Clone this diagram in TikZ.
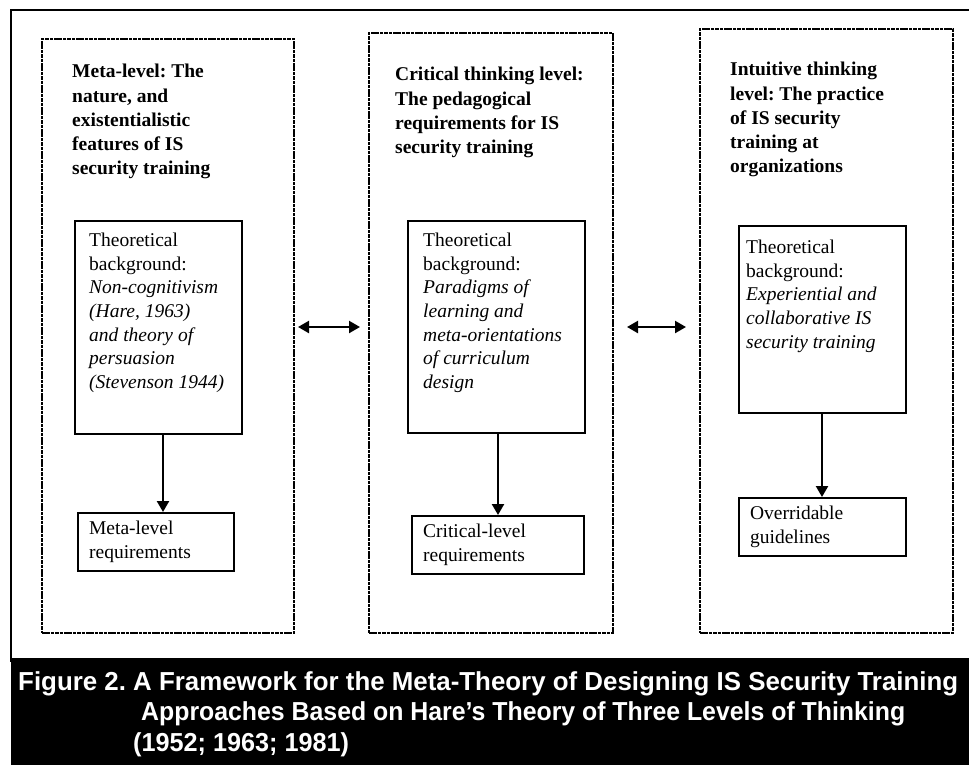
\documentclass[tikz,border=0pt]{standalone}
\usepackage{fontspec}
\setmainfont{Liberation Serif}
\newfontfamily\capfont{Liberation Sans}
\usetikzlibrary{arrows.meta}
\begin{document}
\frenchspacing
\begin{tikzpicture}[x=1pt,y=-1pt,
  levelbox/.style={draw, line width=2pt, dash pattern=on 3.6pt off 0.8pt, inner sep=0pt, anchor=north west},
  thbox/.style={draw, line width=2.2pt, inner sep=0pt, anchor=north west},
  reqbox/.style={draw, line width=2.2pt, anchor=north west, inner xsep=11pt, inner ysep=0pt, align=left,
     font=\fontsize{19.5}{23.6}\selectfont},
  ttl/.style={anchor=north west, inner sep=0pt, align=left, font=\fontsize{19.5}{24.3}\selectfont\bfseries},
  body/.style={anchor=north west, inner sep=0pt, align=left, font=\fontsize{19.5}{23.6}\selectfont},
  arr/.style={line width=2.3pt, -{Triangle[length=11pt,width=12pt]}},
  dbl/.style={line width=2.3pt, {Triangle[length=11pt,width=12pt]}-{Triangle[length=11pt,width=12pt]}},
]
\useasboundingbox (0,0) rectangle (969,764);
% outer frame and caption band
\draw[line width=2.4pt] (975,10) -| (11,662);
\fill[black] (11,658) rectangle (975,770);

% level boxes
\node[levelbox, minimum width=252pt, minimum height=594pt] (D1) at (41,38) {};
\node[levelbox, minimum width=244pt, minimum height=600pt] (D2) at (368,32) {};
\node[levelbox, minimum width=253pt, minimum height=604pt] (D3) at (699,28) {};

% titles
\node[ttl] (T1) at (72,64) {Meta-level: The\\nature, and\\existentialistic\\features of IS\\security training};
\node[ttl] (T2) at (395,67) {Critical thinking level:\\The pedagogical\\requirements for IS\\security training};
\node[ttl] (T3) at (730,62) {Intuitive thinking\\level: The practice\\of IS security\\training at\\organizations};

% theoretical background boxes
\node[thbox, minimum width=167pt, minimum height=213pt] (B1) at (74,220) {};
\node[thbox, minimum width=177pt, minimum height=212pt] (B2) at (407,220) {};
\node[thbox, minimum width=167pt, minimum height=187pt] (B3) at (738,225) {};

\node[body] (X1) at (89,233) {Theoretical\\background:\\\textit{Non-cognitivism}\\\textit{(Hare, 1963)}\\\textit{and theory of}\\\textit{persuasion}\\\textit{(Stevenson 1944)}};
\node[body] (X2) at (423,233) {Theoretical\\background:\\\textit{Paradigms of}\\\textit{learning and}\\\textit{meta-orientations}\\\textit{of curriculum}\\\textit{design}};
\node[body] (X3) at (746,240) {Theoretical\\background:\\\textit{Experiential and}\\\textit{collaborative IS}\\\textit{security training}};

% requirement boxes
\node[reqbox, minimum width=156pt, minimum height=58pt, text width=134pt] (L1) at (77,512) {Meta-level\\requirements};
\node[reqbox, minimum width=172pt, minimum height=58pt, text width=150pt] (L2) at (411,515) {Critical-level\\requirements};
\node[reqbox, minimum width=167pt, minimum height=58pt, text width=145pt] (L3) at (738,497) {Overridable\\guidelines};

% arrows
\draw[arr] (B1.south -| 163,0) -- (L1.north -| 163,0);
\draw[arr] (B2.south -| 498,0) -- (L2.north -| 498,0);
\draw[arr] (B3.south -| 822,0) -- (L3.north -| 822,0);
\draw[dbl, shorten <=3pt, shorten >=8pt] (D1.east |- 0,327) -- (D2.west |- 0,327);
\draw[dbl, shorten <=13pt, shorten >=13pt] (D2.east |- 0,327) -- (D3.west |- 0,327);

% caption
\node[anchor=north west, inner sep=0pt, align=left, text=white, font=\capfont\bfseries\fontsize{26}{30.5}\selectfont] (cap) at (18,671)
 {\resizebox{940pt}{\height}{Figure 2. A Framework for the Meta-Theory of Designing IS Security Training}\\
  \hspace*{123pt}\resizebox{764pt}{\height}{Approaches Based on Hare’s Theory of Three Levels of Thinking}\\
  \hspace*{115pt}\resizebox{216pt}{\height}{(1952; 1963; 1981)}};
\end{tikzpicture}
\end{document}
